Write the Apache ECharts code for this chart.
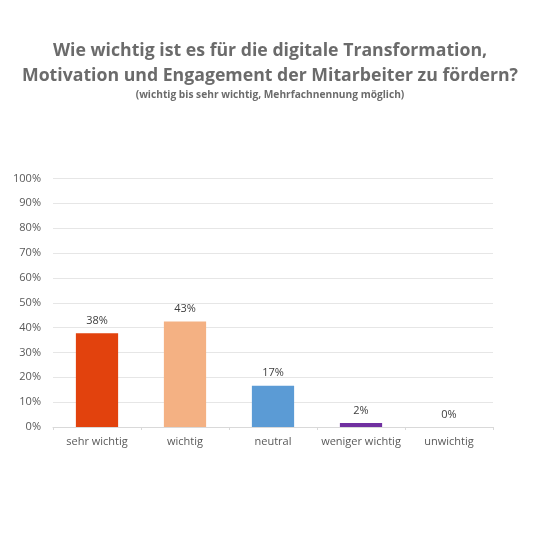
<!DOCTYPE html>
<html><head><meta charset="utf-8">
<script src="https://cdn.jsdelivr.net/npm/echarts@6/dist/echarts.min.js"></script>
<style>html,body{margin:0;padding:0;background:#fff}#c{width:540px;height:540px}</style>
</head><body><div id="c"></div>
<script>
const categories = ['sehr wichtig', 'wichtig', 'neutral', 'weniger wichtig', 'unwichtig'];
const values = [37.7, 42.5, 16.6, 1.6, 0];
const colors = ['#E2420D', '#F4B183', '#5B9BD5', '#7030A0', '#A5A5A5'];
const yTicks = [0, 10, 20, 30, 40, 50, 60, 70, 80, 90, 100];

const chart = echarts.init(document.getElementById('c'), null, {renderer: 'canvas'});
chart.setOption({
  backgroundColor: '#fff',
  animation: false,
  title: [{
    text: 'Wie wichtig ist es für die digitale Transformation,\nMotivation und Engagement der Mitarbeiter zu fördern?',
    left: 'center', top: 33,
    textStyle: {fontFamily: 'Open Sans', fontWeight: 'bold', fontSize: 17.7, color: '#6b6b6b', lineHeight: 25, align: 'center'}
  }, {
    text: '(wichtig bis sehr wichtig, Mehrfachnennung möglich)',
    left: 'center', top: 85,
    textStyle: {fontFamily: 'Open Sans', fontWeight: 'bold', fontSize: 10.2, color: '#6b6b6b'}
  }],
  grid: {left: 53, right: 47, top: 178.5, bottom: 113},
  xAxis: {
    type: 'category', data: categories,
    axisLine: {lineStyle: {color: '#d9d9d9'}},
    axisTick: {show: true, length: 3, lineStyle: {color: '#d9d9d9'}},
    axisLabel: {interval: 0, fontFamily: 'Open Sans', fontSize: 11, color: '#595959', margin: 9}
  },
  yAxis: {
    type: 'value', min: 0, max: 100, interval: 10,
    axisLine: {show: false}, axisTick: {show: false},
    splitLine: {lineStyle: {color: '#e6e6e6'}},
    axisLabel: {fontFamily: 'Open Sans', fontSize: 11, color: '#595959', margin: 12,
      formatter: v => yTicks.includes(v) ? v + '%' : ''}
  },
  series: [{
    type: 'bar', barWidth: '48%',
    data: values.map((v, i) => ({value: v, itemStyle: {color: colors[i]}})),
    label: {show: true, position: 'top', distance: 7, fontFamily: 'Open Sans', fontSize: 11, color: '#404040',
      formatter: p => Math.round(p.value) + '%'}
  }]
});
</script></body></html>
